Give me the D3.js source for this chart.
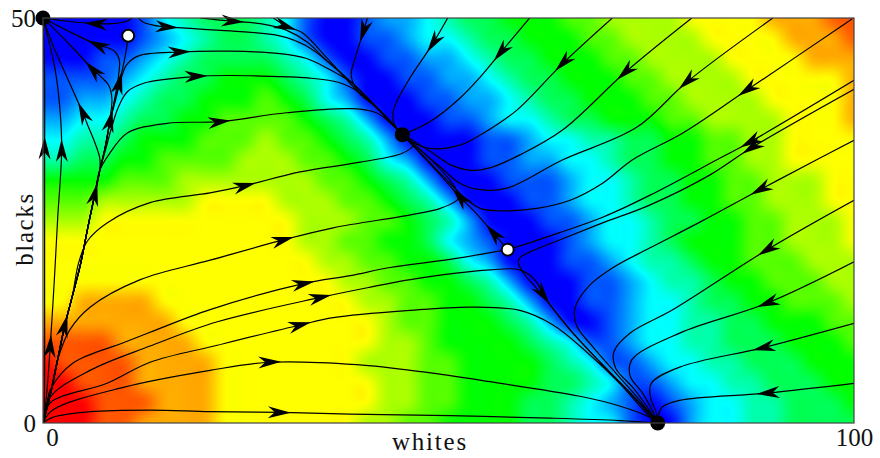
<!DOCTYPE html>
<html>
<head>
<meta charset="utf-8">
<script src="https://cdn.jsdelivr.net/npm/d3@7"></script>
<style>
  html, body { margin: 0; padding: 0; background: #fff; }
  svg { display: block; }
</style>
</head>
<body>
<svg id="chart" width="880" height="458"></svg>
<script>
// ---- axis ticks ----
const xTicks = [0, 100];
const yTicks = [0, 50];

// ---- speed level field (0 = slowest / blue ... 12 = fastest / red) ----
// one string per row, top row = blacks 50, bottom row = blacks 0;
// columns run whites 0 .. 100 in 40 equal steps
const speedRows = [
  "0000013455" + "5431001223" + "4556667788" + "889999aaab" + "b",
  "0000012345" + "5431001123" + "3455666778" + "8889999aaa" + "b",
  "0001123455" + "5543100112" + "2345566677" + "88889999aa" + "a",
  "1111234556" + "6654310011" + "2234556667" + "7888899999" + "a",
  "1122345566" + "6765320001" + "1223455666" + "7788889999" + "a",
  "2233455667" + "7776542000" + "1123345566" + "6778888999" + "a",
  "3344566677" + "7877654200" + "0011233445" + "5667788999" + "9",
  "4455667777" + "8887765320" + "0011223345" + "5667788999" + "9",
  "6666777888" + "8888776542" + "0001112334" + "5566778889" + "9",
  "7778888899" + "9988877654" + "2000112334" + "5566778889" + "9",
  "8889999999" + "9998887765" + "4200011233" + "4556677888" + "9",
  "9999999999" + "9998877665" + "3210001233" + "4566677888" + "9",
  "9999999999" + "9999887766" + "5320001123" + "4456677788" + "8",
  "9999999999" + "9999988776" + "6542000112" + "3445667778" + "8",
  "99aaaa9999" + "9999998877" + "6654200112" + "3345566777" + "8",
  "aaaaaaa999" + "9999999877" + "6665420012" + "3344556667" + "7",
  "bbbbaaaa99" + "9999999887" + "6666543112" + "3344555666" + "7",
  "cbbbbaaaa9" + "9999998887" + "7666654311" + "2334455566" + "6",
  "ccbbbaaaa9" + "9999999887" + "7666655431" + "1233445556" + "6",
  "cccbbbaaa9" + "9999999887" + "7666554321" + "0123344555" + "6",
  "cccbbaaaa9" + "9999998877" + "6666554331" + "0023344555" + "5"
];

// ---- fixed points ----
const stableNodes = [[0, 50], [44.3, 35.6], [75.8, 0]];
const saddles = [[10.5, 47.8], [57.3, 21.4]];

// ---- streamlines (whites, blacks), in flow direction ----
const sO1 = [[0.1,0.2],[0.2,5.3],[0.2,15.2],[0.2,25.1],[0.2,34.0],[0.2,42.3],[0,50]];
const sO2 = [[0.1,0.2],[0.5,4.1],[0.9,9.6],[1.4,17.7],[1.8,25.1],[2.3,33.7],[2.1,38.6],[1.5,43.6],[0,50]];
const sO3a = [[0,0],[0.9,3.5],[1.8,7.8],[2.7,12.1],[3.6,15.6],[4.6,19.5],[5.5,24.0],[6.4,28.3],[7.0,31.2],[7.6,33.7],[8.3,37.4],[8.8,39.6],[9.4,42.0],[10.0,44.6],[10.3,46.3],[10.5,47.8]];
const sO3b = [[0,0],[0.9,3.5],[1.8,7.8],[2.7,12.1],[3.6,15.6],[4.6,19.5],[5.5,24.0],[6.4,28.3],[7.0,31.2],[7.0,32.7],[6.4,34.6],[5.5,36.8],[4.9,38.3],[3.0,42.6],[1.2,46.7],[0,50]];
const sO3c = [[0,0],[0.9,3.5],[1.8,7.8],[2.7,12.1],[3.6,15.6],[4.6,19.5],[5.5,24.0],[6.4,28.3],[7.0,31.2],[7.6,33.7],[8.2,37.2],[8.5,40.0],[8.1,41.7],[7.2,42.7],[6.2,43.6],[3.3,46.7],[0,50]];
const sO3d = [[0,0],[0.9,3.5],[1.8,7.8],[2.7,12.1],[3.6,15.6],[4.6,19.5],[5.5,24.0],[6.4,28.3],[7.0,31.2],[7.6,33.7],[8.3,37.4],[8.8,39.8],[9.3,42.8],[9.4,44.9],[8.7,46.0],[6.7,46.7],[3.3,48.3],[0,50]];
const sO3e = [[0,0],[0.9,3.5],[1.8,7.8],[2.7,12.1],[3.6,15.6],[4.6,19.5],[5.5,24.0],[6.4,28.3],[7.0,31.2],[7.6,33.7],[8.3,37.4],[8.9,39.7],[9.6,42.4],[10.3,44.2],[11.7,45.3],[16.9,45.8],[23.1,45.9],[29.2,45.6],[32.5,45.0],[35.4,43.6],[38.2,41.9],[41.3,38.8],[44.3,35.6]];
const sO4 = [[0,0],[0.9,3.5],[1.8,7.8],[2.7,12.1],[3.6,15.6],[4.6,19.5],[5.5,24.0],[6.4,28.3],[7.0,31.2],[7.7,33.7],[8.5,36.6],[9.3,39.0],[10.4,40.9],[12.6,42.0],[19.0,42.8],[23.1,42.9],[28.0,42.8],[32.7,42.6],[36.6,42.0],[39.0,40.8],[41.3,38.8],[44.3,35.6]];
const sO5 = [[0,0],[0.9,3.5],[1.8,7.8],[2.7,12.1],[3.6,15.6],[4.6,19.5],[5.5,24.0],[6.4,28.3],[7.0,31.2],[8.1,33.1],[10.4,35.8],[15.3,37.0],[21.8,37.2],[30.0,38.3],[38.2,38.8],[41.1,38.3],[43.0,36.9],[44.3,35.6]];
const sLf = [[0,0],[0.9,3.5],[1.8,7.8],[2.7,12.1],[3.6,15.6],[4.4,19.8],[5.5,22.5],[7.9,24.7],[13.2,27.2],[20.6,28.4],[24.9,29.3],[31.7,31.0],[39.1,32.2],[44.3,33.3],[45.6,34.3],[44.3,35.6]];
const sLa = [[0,0],[0.9,3.5],[1.8,7.8],[3.3,11.5],[5.8,14.3],[12.0,17.7],[20.6,20.1],[29.6,22.6],[35.8,24.1],[45.3,25.7],[49.0,26.5],[51.2,27.7],[50.8,29.1],[49.3,31.0],[46.8,33.5],[44.3,35.6]];
const sLb = [[0,0],[0.5,2.5],[0.9,4.1],[3.7,7.4],[9.9,9.9],[13.2,11.2],[20.6,14.0],[32.1,17.2],[37.9,18.2],[42.8,19.2],[50.2,20.2],[57.3,21.4]];
const sLc = [[0,0],[0.9,3.2],[5.8,6.5],[13.2,9.5],[21.5,12.5],[34.2,15.5],[40.0,16.7],[45.3,17.7],[55.1,18.9],[58.8,18.9],[60.8,17.5],[61.7,15.8],[65.0,11.5],[68.7,7.5],[72.4,3.7],[75.8,0]];
const sLd = [[0,0],[0.9,2.5],[7.9,4.9],[13.2,7.5],[21.5,9.6],[31.7,12.1],[35.8,13.0],[45.3,13.9],[52.7,14.3],[58.8,13.9],[62.9,12.1],[67.0,8.8],[71.1,4.9],[74.4,1.2],[75.8,0]];
const sA2 = [[0,0],[1.2,1.6],[9.9,4.4],[20.6,6.5],[28.0,7.5],[38.7,7.2],[46.9,6.3],[55.1,5.1],[66.2,3.3],[71.1,2.1],[74.8,0.7],[75.8,0]];
const sA1 = [[0,0],[1.2,0.7],[5.8,1.4],[13.2,1.6],[20.6,1.4],[29.2,1.3],[37.9,1.1],[50.2,0.9],[62.5,0.6],[71.1,0.3],[75.8,0]];
const sSup = [[57.3,21.4],[55.5,23.5],[53.3,26.0],[51.4,27.9],[49.0,30.6],[46.5,33.3],[44.3,35.6]];
const sTop1 = [[11.0,50],[10.3,49.6],[8.5,49.3],[6.5,49.3],[3.0,49.6],[0,50]];
const sTop2 = [[11.8,50],[12.3,49.5],[13.7,49.1],[15.3,48.9],[23.1,48.4],[29.2,47.8],[32.4,46.6],[35.4,44.4],[38.2,41.9],[41.3,38.8],[44.3,35.6]];
const sTop3 = [[19.4,50],[21.2,49.8],[23.4,49.6],[26.8,49.3],[30.0,48.5],[32.6,47.0],[35.0,44.7],[38.2,41.9],[41.3,38.8],[44.3,35.6]];
const sTop4 = [[28.4,50],[30.0,49.0],[32.1,48.1],[34.6,45.5],[37.0,42.9],[39.3,40.4],[41.3,38.8],[44.3,35.6]];
const sTop5 = [[40.0,50],[39.5,48.3],[38.6,45.4],[38.0,43.0],[38.6,41.3],[41.3,38.8],[44.3,35.6]];
const sTop6 = [[49.9,50],[48.1,46.9],[45.0,42.2],[43.3,38.9],[43.2,37.2],[44.3,35.6]];
const sT1 = [[60.0,50],[56.4,45.7],[53.9,42.7],[51.4,40.1],[47.7,37.2],[44.3,35.6]];
const sT2 = [[70.2,50],[64.1,44.4],[58.4,38.6],[54.5,35.9],[51.4,34.3],[47.7,33.9],[45.5,34.7],[44.3,35.6]];
const sT3 = [[80.0,50],[71.8,43.3],[64.1,36.2],[58.8,33.1],[55.1,31.5],[52.7,31.2],[50.2,31.9],[48.1,33.3],[45.9,34.7],[44.3,35.6]];
const sT4 = [[90.0,50],[79.4,42.1],[73.2,36.5],[64.1,32.5],[57.2,29.0],[53.9,28.8],[51.4,29.6],[49.0,31.6],[46.5,33.7],[44.3,35.6]];
const sT5 = [[99.8,49.9],[86.8,41.1],[78.9,35.8],[72.7,32.5],[69.0,29.6],[65.0,27.5],[60.9,26.5],[56.4,26.2],[53.9,26.5],[52.0,27.8],[49.6,30.2],[47.1,32.8],[44.3,35.6]];
const sR1 = [[100,42.3],[87.2,34.7],[83.1,32.5],[74.8,28.1],[69.0,25.4],[63.7,23.5],[58.0,21.6],[57.3,21.4]];
const sR2 = [[100,41.2],[87.4,34.0],[82.2,30.6],[74.8,26.9],[69.0,24.7],[63.7,22.6],[60.0,21.1],[58.8,20.4],[58.6,19.8],[59.4,18.3],[60.8,16.7],[61.7,15.6],[65.0,11.5],[68.7,7.5],[72.4,3.7],[75.8,0]];
const sR3 = [[100,34.9],[95.4,32.5],[88.4,28.8],[81.0,24.8],[74.8,21.6],[70.3,19.2],[67.3,16.9],[65.6,14.2],[65.8,12.0],[67.8,9.4],[70.6,6.2],[73.5,2.9],[75.8,0]];
const sR4 = [[100,27.5],[89.3,21.4],[77.7,14.0],[72.4,11.1],[70.4,8.8],[70.6,6.8],[72.8,4.3],[75.1,1.1],[75.8,0]];
const sR5 = [[100,19.9],[89.3,14.8],[78.5,11.1],[72.6,7.8],[72.4,5.8],[74.0,3.6],[75.4,1.0],[75.8,0]];
const sR6 = [[100,12.3],[88.8,9.3],[78.5,6.9],[75.0,4.9],[74.9,3.2],[75.6,1.3],[75.8,0]];
const sR7 = [[100,4.9],[89.3,3.7],[78.5,2.8],[76.4,2.0],[75.9,1.0],[75.8,0]];

// streamline table: points + indices of the vertices carrying an arrowhead
const streamlines = [
  { pts: sO1, arrows: [4] },
  { pts: sO2, arrows: [2, 5] },
  { pts: sO3a, arrows: [10, 12] },
  { pts: sO3b, arrows: [7, 12] },
  { pts: sO3c, arrows: [14] },
  { pts: sO3d, arrows: [15] },
  { pts: sO3e, arrows: [15] },
  { pts: sO4, arrows: [14] },
  { pts: sO5, arrows: [12] },
  { pts: sLf, arrows: [3, 10] },
  { pts: sLa, arrows: [7] },
  { pts: sLb, arrows: [7] },
  { pts: sLc, arrows: [5, 11] },
  { pts: sLd, arrows: [5] },
  { pts: sA2, arrows: [4] },
  { pts: sA1, arrows: [5] },
  { pts: sSup, arrows: [1, 3] },
  { pts: sTop1, arrows: [3] },
  { pts: sTop2, arrows: [3] },
  { pts: sTop3, arrows: [2] },
  { pts: sTop4, arrows: [1] },
  { pts: sTop5, arrows: [1] },
  { pts: sTop6, arrows: [1] },
  { pts: sT1, arrows: [1] },
  { pts: sT2, arrows: [1] },
  { pts: sT3, arrows: [1] },
  { pts: sT4, arrows: [1] },
  { pts: sT5, arrows: [1] },
  { pts: sR1, arrows: [1] },
  { pts: sR2, arrows: [1] },
  { pts: sR3, arrows: [2] },
  { pts: sR4, arrows: [1] },
  { pts: sR5, arrows: [1] },
  { pts: sR6, arrows: [1] },
  { pts: sR7, arrows: [1] }
];

// ---- layout ----
const svg = d3.select("#chart");
const plot = { left: 43, right: 854, top: 18, bottom: 423 };
const x = d3.scaleLinear().domain([0, 100]).range([plot.left, plot.right]);
const y = d3.scaleLinear().domain([0, 50]).range([plot.bottom, plot.top]);
const serif = "'Liberation Serif', 'Times New Roman', serif";

// ---- background field ----
const grid = speedRows.map(r => Array.from(r, c => parseInt(c, 16)));
const ny = grid.length, nx = grid[0].length;
const gx = d3.scaleLinear().domain([0, 100]).range([0, nx - 1]);
const gy = d3.scaleLinear().domain([50, 0]).range([0, ny - 1]);
const level = d3.scaleLinear().domain([0, 12]).range([240, 0]).clamp(true);
const lut = d3.range(0, 1201).map(i => d3.rgb(d3.hsl(level(i / 100), 1, 0.5)));

function cr(p0, p1, p2, p3, t) {
  return p1 + 0.5 * t * (p2 - p0 + t * (2 * p0 - 5 * p1 + 4 * p2 - p3 + t * (3 * (p1 - p2) + p3 - p0)));
}
function cell(i, j) {
  i = Math.max(0, Math.min(nx - 1, i));
  j = Math.max(0, Math.min(ny - 1, j));
  return grid[j][i];
}
function sample(u, v) {
  const i = Math.floor(u), j = Math.floor(v);
  const tu = u - i, tv = v - j;
  const rows = [];
  for (let m = -1; m <= 2; m++) {
    rows.push(cr(cell(i - 1, j + m), cell(i, j + m), cell(i + 1, j + m), cell(i + 2, j + m), tu));
  }
  return cr(rows[0], rows[1], rows[2], rows[3], tv);
}

const W = plot.right - plot.left, H = plot.bottom - plot.top;
let field = new Float32Array(W * H);
for (let py = 0; py < H; py++) {
  const v = gy(y.invert(plot.top + py + 0.5));
  for (let px = 0; px < W; px++) {
    const u = gx(x.invert(plot.left + px + 0.5));
    field[py * W + px] = sample(u, v);
  }
}

// separable box smoothing of the level field
function boxPass(src, horizontal, r) {
  const out = new Float32Array(W * H);
  const n = horizontal ? W : H, m = horizontal ? H : W;
  for (let a = 0; a < m; a++) {
    const idx = k => horizontal ? a * W + k : k * W + a;
    let acc = 0;
    for (let k = -r; k <= r; k++) acc += src[idx(Math.max(0, Math.min(n - 1, k)))];
    for (let k = 0; k < n; k++) {
      out[idx(k)] = acc / (2 * r + 1);
      const kin = Math.min(n - 1, k + r + 1), kout = Math.max(0, k - r);
      acc += src[idx(kin)] - src[idx(kout)];
    }
  }
  return out;
}
for (let pass = 0; pass < 2; pass++) {
  field = boxPass(field, true, 5);
  field = boxPass(field, false, 5);
}

const canvas = document.createElement("canvas");
canvas.width = W; canvas.height = H;
const ctx = canvas.getContext("2d");
const img = ctx.createImageData(W, H);
for (let k = 0; k < W * H; k++) {
  const s = Math.max(0, Math.min(12, field[k]));
  const c = lut[Math.round(s * 100)];
  img.data[4 * k] = c.r; img.data[4 * k + 1] = c.g; img.data[4 * k + 2] = c.b; img.data[4 * k + 3] = 255;
}
ctx.putImageData(img, 0, 0);

svg.append("defs").append("clipPath").attr("id", "plotClip")
  .append("rect").attr("x", plot.left).attr("y", plot.top).attr("width", W).attr("height", H);

svg.append("image")
  .attr("x", plot.left).attr("y", plot.top)
  .attr("width", W).attr("height", H)
  .attr("preserveAspectRatio", "none")
  .attr("href", canvas.toDataURL());

// ---- streamlines ----
const line = d3.line()
  .x(d => x(d[0])).y(d => y(d[1]))
  .curve(d3.curveCatmullRom.alpha(0.5));

const gLines = svg.append("g").attr("clip-path", "url(#plotClip)");
const gArrows = svg.append("g");

streamlines.forEach(sl => {
  const path = gLines.append("path")
    .attr("d", line(sl.pts))
    .attr("fill", "none")
    .attr("stroke", "#000")
    .attr("stroke-width", 1.2);
  const node = path.node();
  const L = node.getTotalLength();
  const samples = [];
  for (let s = 0; s <= L; s += 1) samples.push([s, node.getPointAtLength(s)]);
  sl.arrows.forEach(idx => {
    const tx = x(sl.pts[idx][0]), ty = y(sl.pts[idx][1]);
    let best = 0, bd = Infinity;
    samples.forEach(([s, p]) => {
      const d = (p.x - tx) ** 2 + (p.y - ty) ** 2;
      if (d < bd) { bd = d; best = s; }
    });
    const sTip = Math.min(L, best + 11);
    const a = node.getPointAtLength(Math.max(0, sTip - 6));
    const b = node.getPointAtLength(sTip);
    const ang = Math.atan2(b.y - a.y, b.x - a.x) * 180 / Math.PI;
    gArrows.append("path")
      .attr("d", "M0,0L-23,-6L-16,0L-23,6Z")
      .attr("fill", "#000")
      .attr("transform", `translate(${b.x},${b.y}) rotate(${ang})`);
  });
});

// ---- fixed points ----
svg.append("g").selectAll("circle").data(stableNodes).join("circle")
  .attr("cx", d => x(d[0])).attr("cy", d => y(d[1])).attr("r", 7.5)
  .attr("fill", "#000");
svg.append("g").selectAll("circle").data(saddles).join("circle")
  .attr("cx", d => x(d[0])).attr("cy", d => y(d[1])).attr("r", 6)
  .attr("fill", "#fff").attr("stroke", "#000").attr("stroke-width", 2);

// ---- frame ----
svg.append("rect")
  .attr("x", plot.left).attr("y", plot.top).attr("width", W).attr("height", H)
  .attr("fill", "none").attr("stroke", "#444").attr("stroke-width", 1.2);

// ---- axes ----
const xAxis = d3.axisBottom(x).tickValues(xTicks).tickSize(0).tickPadding(0).tickFormat(d3.format("d"));
const gxAxis = svg.append("g").attr("transform", "translate(0,446)").call(xAxis);
gxAxis.select(".domain").remove();
gxAxis.attr("font-family", serif).attr("font-size", 25);
gxAxis.selectAll("text").attr("dy", 0).attr("fill", "#111");
gxAxis.selectAll(".tick").filter(d => d === 0).select("text").attr("dx", 9);

const yAxis = d3.axisLeft(y).tickValues(yTicks).tickSize(0).tickPadding(0).tickFormat(d3.format("d"));
const gyAxis = svg.append("g").attr("transform", "translate(36,0)").call(yAxis);
gyAxis.select(".domain").remove();
gyAxis.attr("font-family", serif).attr("font-size", 25);
gyAxis.selectAll("text").attr("fill", "#111");

svg.append("text")
  .attr("x", 430).attr("y", 450)
  .attr("text-anchor", "middle")
  .attr("font-family", serif).attr("font-size", 25)
  .attr("letter-spacing", 1.8)
  .attr("fill", "#111")
  .text("whites");

svg.append("text")
  .attr("transform", "translate(33,229) rotate(-90)")
  .attr("text-anchor", "middle")
  .attr("font-family", serif).attr("font-size", 25)
  .attr("letter-spacing", 1.6)
  .attr("fill", "#111")
  .text("blacks");
</script>
</body>
</html>
